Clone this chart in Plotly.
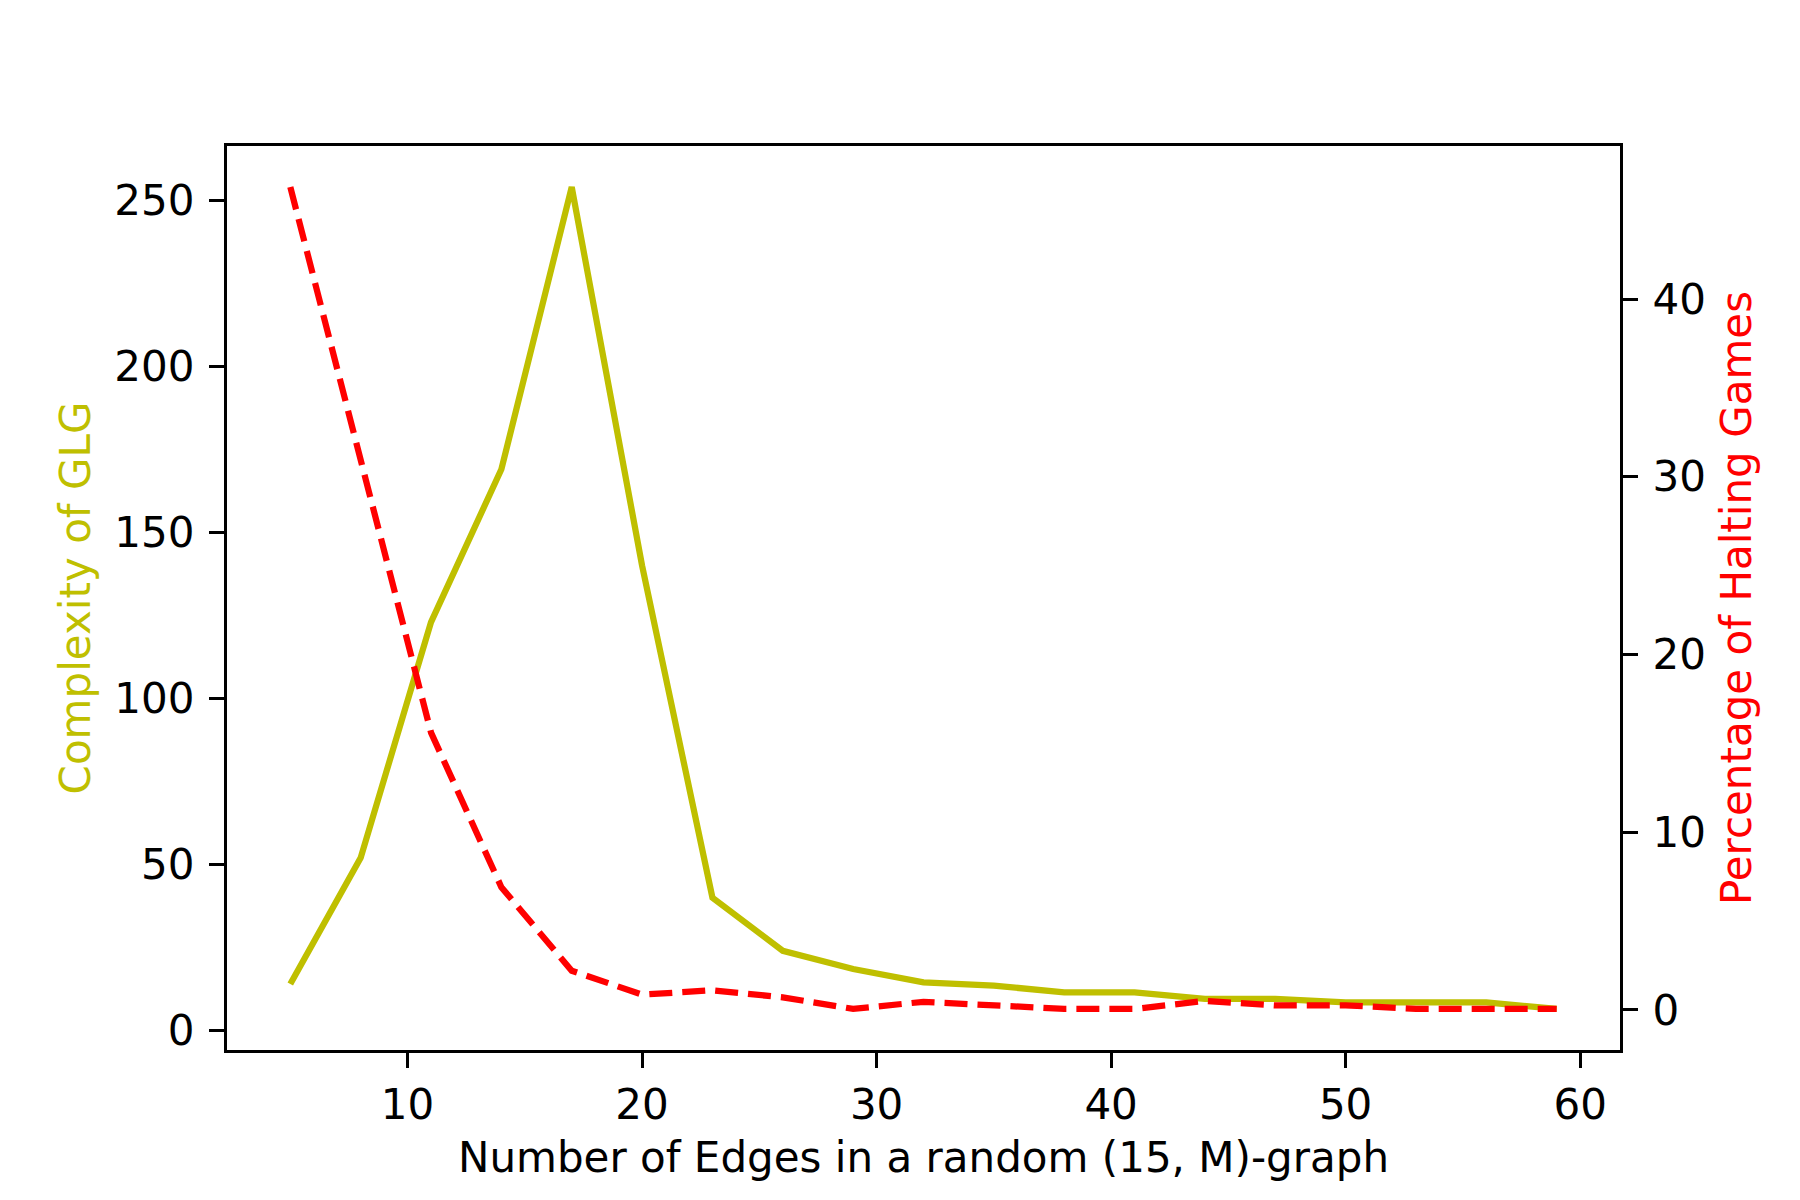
import plotly.graph_objects as go

# data
edges = [5, 8, 11, 14, 17, 20, 23, 26, 29, 32, 35, 38, 41, 44, 47, 50, 53, 56, 59]
complexity = [14, 52, 123, 169, 254, 140, 40, 24, 18.5, 14.5, 13.5, 11.5, 11.5, 9.5, 9.5, 8.5, 8.5, 8.5, 6.5]
halting = [46.3, 31, 15.6, 6.9, 2.2, 0.85, 1.1, 0.7, 0.05, 0.45, 0.25, 0.05, 0.05, 0.5, 0.25, 0.25, 0.05, 0.05, 0.05]

YELLOW = "#bfbf00"
RED = "#ff0000"
FONT = "DejaVu Sans"


def padded(vals, frac=0.05):
    lo, hi = min(vals), max(vals)
    p = (hi - lo) * frac
    return [lo - p, hi + p]


fig = go.Figure()
fig.add_trace(go.Scatter(x=edges, y=complexity, mode="lines",
                         line=dict(color=YELLOW, width=6.25), showlegend=False))
fig.add_trace(go.Scatter(x=edges, y=halting, mode="lines", yaxis="y2",
                         line=dict(color=RED, width=6.25, dash="23px,10px"),
                         showlegend=False))

axis_common = dict(
    showline=True, linecolor="black", linewidth=3.3,
    ticks="outside", ticklen=15, tickwidth=3.3, tickcolor="black",
    showgrid=False, zeroline=False,
    tickfont=dict(family=FONT, size=42, color="black"),
)

fig.update_layout(
    width=1800, height=1200,
    paper_bgcolor="white", plot_bgcolor="white",
    margin=dict(l=219, r=188, t=138, b=158),
    font=dict(family=FONT, size=42, color="black"),
    xaxis=dict(range=padded(edges), tickvals=[10, 20, 30, 40, 50, 60], mirror=True,
               ticklabelstandoff=0,
               title=dict(text="Number of Edges in a random (15, M)-graph",
                          font=dict(family=FONT, size=42, color="black"), standoff=16),
               **axis_common),
    yaxis=dict(range=padded(complexity), tickvals=[0, 50, 100, 150, 200, 250],
               ticklabelstandoff=6,
               title=dict(text="Complexity of GLG",
                          font=dict(family=FONT, size=42, color=YELLOW), standoff=11),
               **axis_common),
    yaxis2=dict(range=padded(halting), tickvals=[0, 10, 20, 30, 40],
                overlaying="y", side="right", ticklabelstandoff=6,
                title=dict(text="Percentage of Halting Games",
                           font=dict(family=FONT, size=42, color=RED), standoff=17),
                **axis_common),
)

fig.write_html("out.html")
